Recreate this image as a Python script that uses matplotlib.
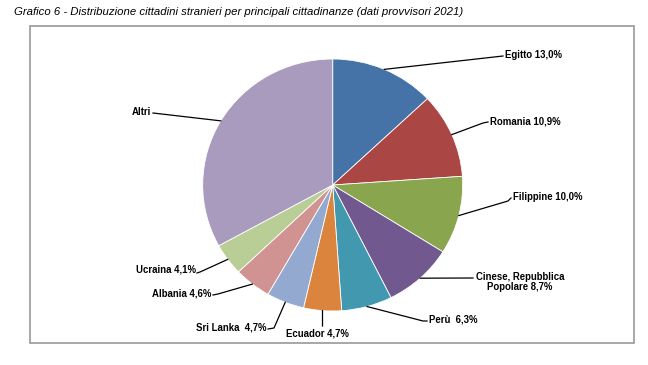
import matplotlib
matplotlib.use("Agg")
import matplotlib.pyplot as plt
from matplotlib.patches import Rectangle
import numpy as np

plt.rcParams['font.family'] = ['Liberation Sans', 'DejaVu Sans']

# ---- data ----
countries = ["Egitto", "Romania", "Filippine", "Cinese, Repubblica\nPopolare", "Perù ",
             "Ecuador", "Sri Lanka ", "Albania", "Ucraina", "Altri"]
shares = [13.0, 10.9, 10.0, 8.7, 6.3, 4.7, 4.7, 4.6, 4.1, 33.0]
colors = ["#4572A7", "#AA4643", "#89A54E", "#71588F", "#4198AF",
          "#DB843D", "#93A9CF", "#D19392", "#B9CD96", "#A99BBD"]
title = "Grafico 6 - Distribuzione cittadini stranieri per principali cittadinanze (dati provvisori 2021)"

# ---- layout (pixels) ----
W, H = 648, 365
cx, cy, rx, ry = 332.7, 185.0, 130.0, 126.0
# bend point of leader, end point, text anchor point, alignment
bends = [(503, 56), (483, 123), (508, 201), (473, 278), (423, 321),
         (322.5, 326), (274, 328), (218, 294), (200, 272), (153, 113)]
ends = [(503, 56), (488, 122), (511, 198), (473, 278), (427, 321),
        (322.5, 326), (268, 329), (213, 295), (197, 273), (153, 113)]
text_pos = [(505, 55, 'left'), (490, 121, 'left'), (513, 197, 'left'),
            (520, 282, 'center'), (429, 320, 'left'), (317, 333, 'center'),
            (266, 327, 'right'), (211, 293, 'right'), (196, 270, 'right'),
            (151, 112, 'right')]

fig = plt.figure(figsize=(W / 100, H / 100), dpi=100)
fig.patch.set_facecolor('white')

axp = fig.add_axes([(cx - rx) / W, (H - cy - ry) / H, 2 * rx / W, 2 * ry / H])
wedges, _ = axp.pie(shares, colors=colors, startangle=90, counterclock=False,
                    radius=1.0, wedgeprops=dict(edgecolor='white', linewidth=0.6))
axp.set_xlim(-1, 1)
axp.set_ylim(-1, 1)
axp.set_aspect('auto')
axp.axis('off')

ov = fig.add_axes([0, 0, 1, 1], zorder=5)
ov.set_xlim(0, W)
ov.set_ylim(H, 0)
ov.axis('off')
ov.patch.set_alpha(0)

ov.add_patch(Rectangle((30, 26), 604, 317, fill=False, edgecolor='#a0a0a0', linewidth=1.3))
ov.text(14, 12, title, fontsize=8.2, style='italic', va='center', ha='left', color='black')

for w, name, val, b, e, tp in zip(wedges, countries, shares, bends, ends, text_pos):
    th = np.deg2rad((w.theta1 + w.theta2) / 2)
    px, py = cx + rx * np.cos(th), cy - ry * np.sin(th)
    ov.plot([px, b[0], e[0]], [py, b[1], e[1]], color='black', lw=0.9)
    lab = name if name == "Altri" else f"{name} {val:.1f}%".replace('.', ',')
    ov.text(tp[0], tp[1], lab, fontsize=6.9, fontweight='bold', ha=tp[2],
            va='center', multialignment='center', color='black', linespacing=1.1)

fig.savefig("out.png", dpi=100)
